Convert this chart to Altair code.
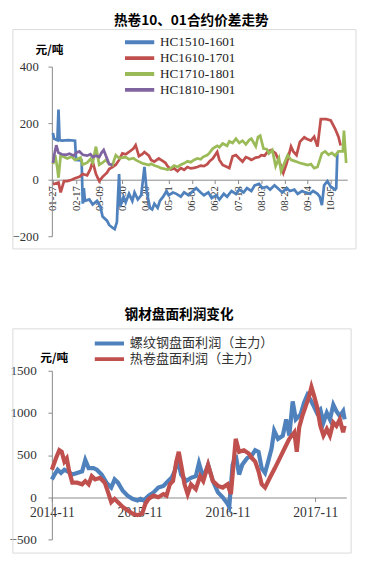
import datetime as dt
import altair as alt
import pandas as pd

# ---------------- Chart 1: 热卷10、01合约价差走势 ----------------
START_1 = "2016-01-27"
SERIES_1 = ["HC1510-1601", "HC1610-1701", "HC1710-1801", "HC1810-1901"]
COLORS_1 = ["#4F81BD", "#C0504D", "#9BBB59", "#8064A2"]
TICKS_1 = ["2016-01-27", "2016-02-17", "2016-03-09", "2016-03-30", "2016-04-20",
           "2016-05-11", "2016-06-01", "2016-06-22", "2016-07-13", "2016-08-03",
           "2016-08-24", "2016-09-14", "2016-10-05"]

hc1510_days = [0, 1, 4, 5, 6, 8, 14, 20, 21, 26, 27, 28, 29, 33, 36, 40, 43, 45, 49, 51,
               54, 56, 58, 59, 60, 61, 64, 66, 69, 72, 74, 77, 80, 82, 83, 85, 88, 90, 92, 95,
               97, 100, 103, 105, 109, 112, 116, 119, 123, 127, 130, 134, 137, 141, 144, 148, 151, 155, 158, 162,
               166, 169, 173, 176, 180, 183, 187, 190, 194, 197, 201, 204, 208, 212, 215, 219, 222, 226, 229, 233,
               236, 240, 242, 244, 246, 249, 252, 256, 257, 258]
hc1510_vals = [165, 145, 140, 248, 140, 138, 140, 138, 70, 68, -85, -30, -75, -70, -88, -75, -95, -130, -145, -160,
               -170, -175, -150, -60, 20, -95, -60, -80, -50, -75, -45, -70, -55, 10, 45, -40, -100, -105, -85, -100,
               -75, -60, -40, -55, -45, -50, -60, -45, -55, -40, -30, -45, -55, -45, -65, -55, -70, -50, -60, -40,
               -50, -35, -45, -30, -40, -20, -15, -30, -25, -35, -20, -30, -45, -30, -40, -35, -50, -40, -45, -50,
               -40, -50, -60, -90, -20, -5, -25, -35, -30, 95]

hc1610_days = [0, 1, 5, 7, 10, 13, 17, 20, 24, 27, 31, 34, 36, 39, 42, 45, 49, 51, 54, 57,
               60, 63, 66, 69, 73, 75, 78, 81, 83, 87, 89, 92, 96, 98, 102, 104, 107, 110, 113, 116,
               119, 122, 125, 128, 131, 134, 137, 140, 142, 145, 149, 151, 154, 158, 160, 163, 166, 169, 172, 175,
               178, 180, 184, 187, 189, 192, 195, 198, 202, 204, 207, 209, 212, 216, 218, 221, 224, 228, 230, 234,
               237, 240, 243, 248, 252, 256, 259, 261]
hc1610_vals = [-16, -15, -10, -45, -5, -5, 0, 5, 10, 20, 15, 38, 65, 20, -5, 10, 25, 38, 45, 53,
               70, 93, 90, 98, 110, 122, 83, 90, 98, 85, 70, 64, 75, 70, 60, 48, 36, 40, 30, 41,
               35, 45, 40, 42, 45, 50, 48, 55, 65, 75, 98, 70, 52, 45, 41, 83, 87, 75, 64, 80,
               75, 70, 78, 80, 87, 85, 100, 105, 93, 75, 48, 24, 58, 117, 100, 87, 134, 150, 145, 138,
               152, 117, 214, 214, 210, 180, 152, 121]

hc1710_days = [0, 2, 4, 5, 7, 10, 13, 17, 20, 25, 27, 31, 34, 36, 39, 42, 45, 48, 51, 54,
               57, 60, 63, 66, 69, 73, 75, 78, 81, 84, 87, 89, 92, 96, 98, 102, 104, 107, 110, 113,
               116, 119, 122, 125, 128, 131, 134, 136, 140, 142, 145, 149, 151, 154, 158, 160, 163, 166, 169, 172,
               175, 178, 180, 184, 186, 188, 191, 194, 196, 199, 202, 205, 207, 210, 213, 216, 220, 224, 228, 231,
               234, 237, 240, 244, 247, 250, 253, 256, 259, 263, 264, 266]
hc1710_vals = [55, 87, 40, 7, 87, 80, 75, 82, 70, 78, 53, 60, 73, 60, 117, 53, 60, 70, 55, 52,
               87, 76, 78, 80, 72, 76, 70, 64, 58, 55, 52, 56, 50, 45, 41, 38, 35, 41, 50, 45,
               53, 58, 65, 62, 70, 75, 72, 80, 87, 95, 110, 120, 115, 128, 120, 136, 130, 145, 130, 138,
               125, 140, 145, 118, 151, 156, 110, 108, 93, 105, 48, 76, 30, 59, 87, 70, 65, 59, 55, 52,
               55, 41, 45, 93, 100, 88, 95, 85, 100, 100, 174, 59]

hc1810_days = [0, 1, 3, 5, 8, 12, 15, 19, 21, 24, 27, 31, 34, 36, 39, 42, 44, 46, 49, 51, 54]
hc1810_vals = [59, 85, 122, 95, 90, 88, 92, 85, 95, 100, 88, 85, 90, 80, 85, 80, 95, 105, 75, 55, 52]

# ---------------- Chart 2: 钢材盘面利润变化 ----------------
SERIES_2 = ["螺纹钢盘面利润（主力）", "热卷盘面利润（主力）"]
COLORS_2 = ["#4F81BD", "#C0504D"]
TICKS_2 = ["2014-11-01", "2015-11-01", "2016-11-01", "2017-11-01"]

rebar_dates = ["2014-11-01", "2014-11-12", "2014-11-25", "2014-12-09", "2014-12-23", "2015-01-05", "2015-01-25",
               "2015-02-14", "2015-03-07", "2015-03-20", "2015-04-03", "2015-04-23", "2015-05-07", "2015-05-27",
               "2015-06-16", "2015-07-06", "2015-07-20", "2015-08-03", "2015-08-23", "2015-09-12", "2015-10-02",
               "2015-10-23", "2015-11-05", "2015-11-18", "2015-12-09", "2015-12-29", "2016-01-18", "2016-02-08",
               "2016-02-28", "2016-03-13", "2016-03-26", "2016-04-08", "2016-04-22", "2016-05-12", "2016-06-02",
               "2016-06-22", "2016-07-05", "2016-07-23", "2016-08-12", "2016-09-01", "2016-09-22", "2016-10-12",
               "2016-11-01", "2016-11-08", "2016-11-22", "2016-12-05", "2016-12-19", "2017-01-01", "2017-01-21",
               "2017-02-11", "2017-02-24", "2017-03-10", "2017-03-23", "2017-04-06", "2017-04-19", "2017-05-03",
               "2017-05-14", "2017-05-30", "2017-06-19", "2017-07-03", "2017-07-16", "2017-07-30", "2017-08-12",
               "2017-09-01", "2017-09-15", "2017-09-29", "2017-10-12", "2017-10-26", "2017-11-08", "2017-11-22",
               "2017-12-05", "2017-12-19", "2018-01-01", "2018-01-15", "2018-01-28", "2018-02-11", "2018-02-25",
               "2018-03-03"]
rebar_vals = [212, 270, 327, 289, 327, 308, 270,
              289, 308, 443, 346, 346, 327, 270,
              173, 115, 212, 173, 77, 19, -19,
              -38, -19, -38, 19, 58, 115, 135,
              192, 231, 308, 443, 270, 192, 231,
              250, 404, 231, 385, 192, 58, 0,
              -77, -115, 385, 500, 270, 385, 462,
              500, 558, 539, 346, 289, 424, 578,
              789, 693, 731, 924, 731, 1136, 924,
              982, 1117, 1213, 1155, 1078, 1001, 1040,
              886, 1001, 924, 1097, 1020, 962, 1020,
              924]

hrc_dates = ["2014-11-01", "2014-11-18", "2014-12-02", "2014-12-12", "2014-12-23", "2015-01-02", "2015-01-12",
             "2015-01-25", "2015-02-14", "2015-03-07", "2015-03-20", "2015-04-03", "2015-04-16", "2015-04-30",
             "2015-05-20", "2015-06-09", "2015-06-23", "2015-07-06", "2015-07-20", "2015-08-03", "2015-08-23",
             "2015-09-12", "2015-10-02", "2015-10-23", "2015-11-12", "2015-11-25", "2015-12-09", "2015-12-29",
             "2016-01-18", "2016-02-08", "2016-02-21", "2016-03-06", "2016-03-19", "2016-04-02", "2016-04-12",
             "2016-04-22", "2016-05-06", "2016-05-19", "2016-06-02", "2016-06-22", "2016-07-10", "2016-07-23",
             "2016-08-12", "2016-09-01", "2016-09-22", "2016-10-12", "2016-11-01", "2016-11-15", "2016-11-28",
             "2016-12-05", "2016-12-19", "2017-01-08", "2017-01-28", "2017-02-11", "2017-02-24", "2017-03-10",
             "2017-03-23", "2017-04-06", "2017-04-26", "2017-05-17", "2017-06-06", "2017-06-26", "2017-07-16",
             "2017-08-06", "2017-08-16", "2017-08-26", "2017-09-08", "2017-09-22", "2017-10-06", "2017-10-16",
             "2017-10-28", "2017-11-08", "2017-11-22", "2017-12-05", "2017-12-19", "2018-01-01", "2018-01-15",
             "2018-01-28", "2018-02-11", "2018-02-25", "2018-03-03"]
hrc_vals = [327, 462, 558, 539, 424, 462, 308,
            173, 173, 154, 192, 154, 250, 212,
            231, 173, 58, -58, -19, -58, -115,
            -154, -193, -212, -193, -77, -19, 19,
            0, 38, 19, 154, 192, 424, 539,
            385, 154, 38, 154, 96, 250, 192,
            385, 192, 135, 115, 154, 38, 462,
            693, 539, 558, 520, 462, 424, 308,
            154, 115, 231, 346, 462, 578, 693,
            770, 539, 828, 962, 1078, 1194, 1309,
            1194, 1078, 847, 731, 809, 731, 886,
            847, 924, 770, 847]


def offset_dates(start, days):
    base = dt.date.fromisoformat(start)
    return [(base + dt.timedelta(days=d)).isoformat() for d in days]


def utc(s):
    d = dt.date.fromisoformat(s)
    return alt.DateTime(year=d.year, month=d.month, date=d.day, utc=True)


rows1 = []
for name, days, vals in zip(SERIES_1,
                            [hc1510_days, hc1610_days, hc1710_days, hc1810_days],
                            [hc1510_vals, hc1610_vals, hc1710_vals, hc1810_vals]):
    for d, v in zip(offset_dates(START_1, days), vals):
        rows1.append({"date": d, "value": v, "series": name})
df1 = pd.DataFrame(rows1)

rows2 = []
for name, dates, vals in zip(SERIES_2, [rebar_dates, hrc_dates], [rebar_vals, hrc_vals]):
    for d, v in zip(dates, vals):
        rows2.append({"date": d, "value": v, "series": name})
df2 = pd.DataFrame(rows2)

SERIF = "Liberation Serif"
CJK = "Noto Sans CJK SC"
AXIS_C = "#888888"
BOX_C = "#D9D9D9"
one = pd.DataFrame({"k": [0]})

# ---- top chart ----
W1, H1 = 303, 174
box1 = alt.Chart(one).mark_rect(fillOpacity=0, stroke=BOX_C, strokeWidth=1).encode(
    x=alt.value(-40), x2=alt.value(312), y=alt.value(-38), y2=alt.value(187))

lines1 = alt.Chart(df1).mark_line(strokeWidth=2.8).encode(
    x=alt.X("date:T",
            scale=alt.Scale(type="utc", domain=[utc("2016-01-26"), utc("2016-10-20")]),
            axis=alt.Axis(values=[utc(t) for t in TICKS_1], format="%m-%d", labelAngle=270,
                          labelFont=SERIF, labelFontSize=11, labelColor="#333333",
                          tickSize=4, tickColor=AXIS_C, domainColor=AXIS_C, labelPadding=2,
                          offset=-58, grid=False, title=None, labelOverlap=False, labelFlush=False)),
    y=alt.Y("value:Q",
            scale=alt.Scale(domain=[-200, 400], nice=False, zero=False),
            axis=alt.Axis(values=[-200, 0, 200, 400], format="d", labelFont=SERIF, labelFontSize=13,
                          labelColor="#333333", tickSize=4, tickColor=AXIS_C, domainColor=AXIS_C,
                          labelPadding=10, grid=False, title="元/吨", titleAngle=0,
                          titleX=-3, titleY=-17, titleAlign="center", titleBaseline="middle",
                          titleFont=CJK, titleFontSize=12, titleFontWeight="bold", titleColor="#000000")),
    color=alt.Color("series:N", scale=alt.Scale(domain=SERIES_1, range=COLORS_1),
                    legend=alt.Legend(title=None, orient="none", legendX=73, legendY=-31.5,
                                      direction="vertical", symbolType="stroke", symbolSize=900,
                                      symbolStrokeWidth=4, clipHeight=13, rowPadding=2.3,
                                      labelFont=SERIF, labelFontSize=13.5, labelColor="#222222",
                                      labelOffset=4, padding=0)),
)

top = alt.layer(box1, lines1).properties(
    width=W1, height=H1,
    title=alt.TitleParams(text="热卷10、01合约价差走势", font=CJK, fontSize=14, fontWeight="bold",
                          color="#000000", anchor="middle", offset=1, dx=-8.5, frame="group"))

# ---- bottom chart ----
W2, H2 = 302, 173
box2 = alt.Chart(one).mark_rect(fillOpacity=0, stroke=BOX_C, strokeWidth=1).encode(
    x=alt.value(-40), x2=alt.value(307), y=alt.value(-43), y2=alt.value(187))

lines2 = alt.Chart(df2).mark_line(strokeWidth=4.3).encode(
    x=alt.X("date:T",
            scale=alt.Scale(type="utc", domain=[utc("2014-11-01"), utc("2018-03-10")]),
            axis=alt.Axis(values=[utc(t) for t in TICKS_2], format="%Y-%m", labelAngle=0,
                          labelFont=SERIF, labelFontSize=14, labelColor="#333333",
                          tickSize=4, tickColor=AXIS_C, domainColor=AXIS_C, labelPadding=5,
                          offset=-43, grid=False, title=None, labelOverlap=False, labelFlush=False)),
    y=alt.Y("value:Q",
            scale=alt.Scale(domain=[-500, 1500], nice=False, zero=False),
            axis=alt.Axis(values=[-500, 0, 500, 1000, 1500], format="d", labelFont=SERIF, labelFontSize=13.5,
                          labelColor="#333333", tickSize=4, tickColor=AXIS_C, domainColor=AXIS_C,
                          labelPadding=12, grid=False, title="元/吨", titleAngle=0,
                          titleX=2, titleY=-14, titleAlign="center", titleBaseline="middle",
                          titleFont=CJK, titleFontSize=12, titleFontWeight="bold", titleColor="#000000")),
    color=alt.Color("series:N", scale=alt.Scale(domain=SERIES_2, range=COLORS_2),
                    legend=alt.Legend(title=None, orient="none", legendX=42, legendY=-34.5,
                                      direction="vertical", symbolType="stroke", symbolSize=900,
                                      symbolStrokeWidth=4, clipHeight=13, rowPadding=2,
                                      labelFont=CJK, labelFontSize=13.4, labelColor="#333333",
                                      labelOffset=4, padding=0)),
)

bottom = alt.layer(box2, lines2).properties(
    width=W2, height=H2,
    title=alt.TitleParams(text="钢材盘面利润变化", font=CJK, fontSize=14, fontWeight="bold",
                          color="#000000", anchor="middle", offset=7, dx=-20.5, frame="group"))

chart = alt.vconcat(top, bottom, spacing=59).resolve_scale(
    color="independent"
).resolve_legend(
    color="independent"
).properties(
    padding={"left": 0, "top": -1, "right": 0, "bottom": 0}
).configure_view(stroke="transparent")

chart.save("out.html", embed_options={"renderer": "svg", "actions": False})
